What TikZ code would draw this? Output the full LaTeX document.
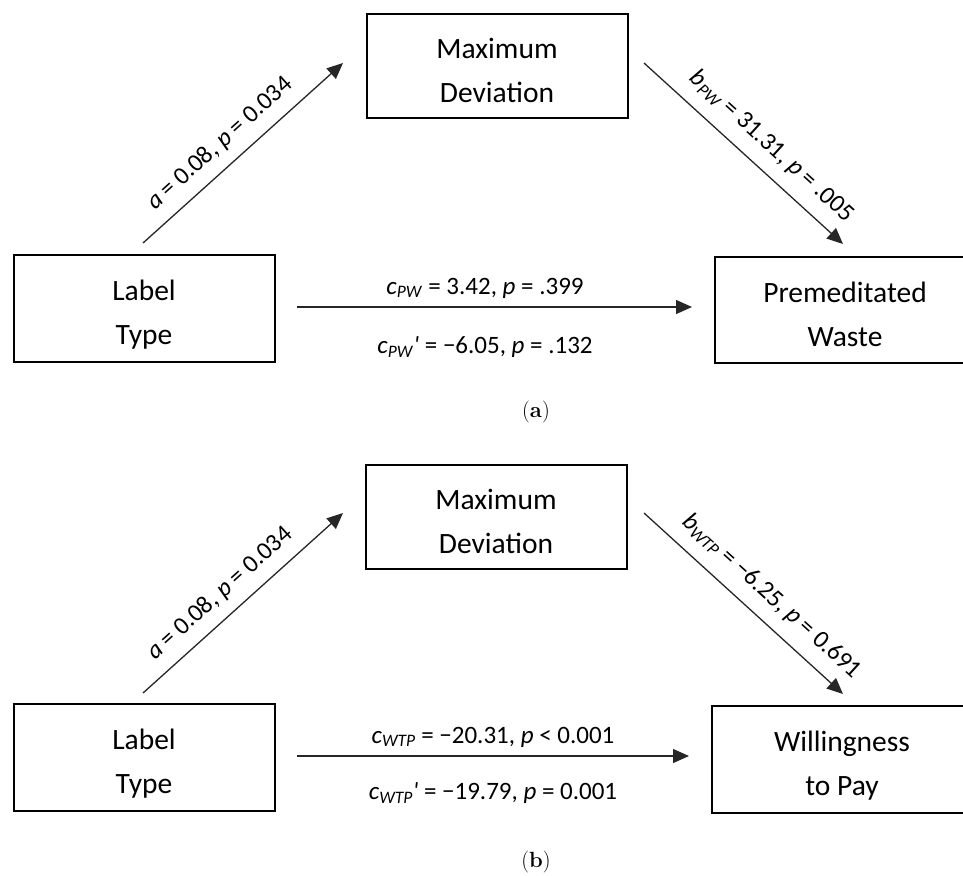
\documentclass[tikz,border=0pt]{standalone}
\usepackage{fontspec}
\setsansfont{Carlito}
\usetikzlibrary{arrows.meta}
\newcommand{\topstr}{\rule{0pt}{35pt}}
\newcommand{\botstr}{\rule[-6pt]{0pt}{6pt}}
\begin{document}
\begin{tikzpicture}[x=1pt,y=-1pt,
  box/.style={draw=black, line width=2pt, minimum width=261pt, align=center, inner sep=0pt,
    font=\sffamily\fontsize{29.5}{44}\selectfont},
  conn/.style={draw=black!85, line width=1.3pt, -{Triangle[length=16pt,width=14pt]}},
  elab/.style={font=\sffamily\fontsize{25}{30}\selectfont, inner sep=0pt},
  captxt/.style={font=\rmfamily\fontsize{22}{26}\selectfont, inner sep=0pt}]
\useasboundingbox (0,0) rectangle (963,875);
% ---------- panel (a)
\node[box, minimum height=104pt] (m1) at (497,66) {\topstr Maximum\\Deviation\botstr};
\node[box, minimum height=107pt] (x1) at (144,308) {\topstr Label\\Type\botstr};
\node[box, minimum height=106pt] (y1) at (845,310) {\topstr Premeditated\\Waste\botstr};
\coordinate (a1s) at (143,243); \coordinate (a1e) at (343,63);
\coordinate (b1s) at (644,63);  \coordinate (b1e) at (843,244);
\coordinate (c1s) at (297,307); \coordinate (c1e) at (692,307);
\draw[conn] (a1s) -- node[elab, sloped, pos=0.46, above=11pt]{\textit{a} = 0.08, \textit{p} = 0.034} (a1e);
\draw[conn] (b1s) -- node[elab, sloped, pos=0.56, above=13pt]{\textit{b}\textsubscript{\textit{PW}} = 31.31, \textit{p} = .005} (b1e);
\draw[conn] (c1s) -- node[elab, pos=0.476, yshift=19pt]{\textit{c}\textsubscript{\textit{PW}} = 3.42, \textit{p} = .399}
  node[elab, pos=0.476, yshift=-40pt]{\textit{c}\textsubscript{\textit{PW}}\textit{\textquotesingle} = −6.05, \textit{p} = .132} (c1e);
\node[captxt] (capa) at (536,412) {(\textbf{a})};
% ---------- panel (b)
\node[box, minimum height=104pt] (m2) at (496,517) {\topstr Maximum\\Deviation\botstr};
\node[box, minimum height=107pt] (x2) at (144,757) {\topstr Label\\Type\botstr};
\node[box, minimum height=107pt] (y2) at (842,759) {\topstr Willingness\\to Pay\botstr};
\coordinate (a2s) at (143,693); \coordinate (a2e) at (343,513);
\coordinate (b2s) at (644,513); \coordinate (b2e) at (843,694);
\coordinate (c2s) at (297,756); \coordinate (c2e) at (689,756);
\draw[conn] (a2s) -- node[elab, sloped, pos=0.46, above=11pt]{\textit{a} = 0.08, \textit{p} = 0.034} (a2e);
\draw[conn] (b2s) -- node[elab, sloped, pos=0.56, above=13pt]{\textit{b}\textsubscript{\textit{WTP}} = −6.25, \textit{p} = 0.691} (b2e);
\draw[conn] (c2s) -- node[elab, pos=0.5, yshift=19pt]{\textit{c}\textsubscript{\textit{WTP}} = −20.31, \textit{p} < 0.001}
  node[elab, pos=0.5, yshift=-37pt]{\textit{c}\textsubscript{\textit{WTP}}\textit{\textquotesingle} = −19.79, \textit{p} = 0.001} (c2e);
\node[captxt] (capb) at (536,862) {(\textbf{b})};
\end{tikzpicture}
\end{document}
